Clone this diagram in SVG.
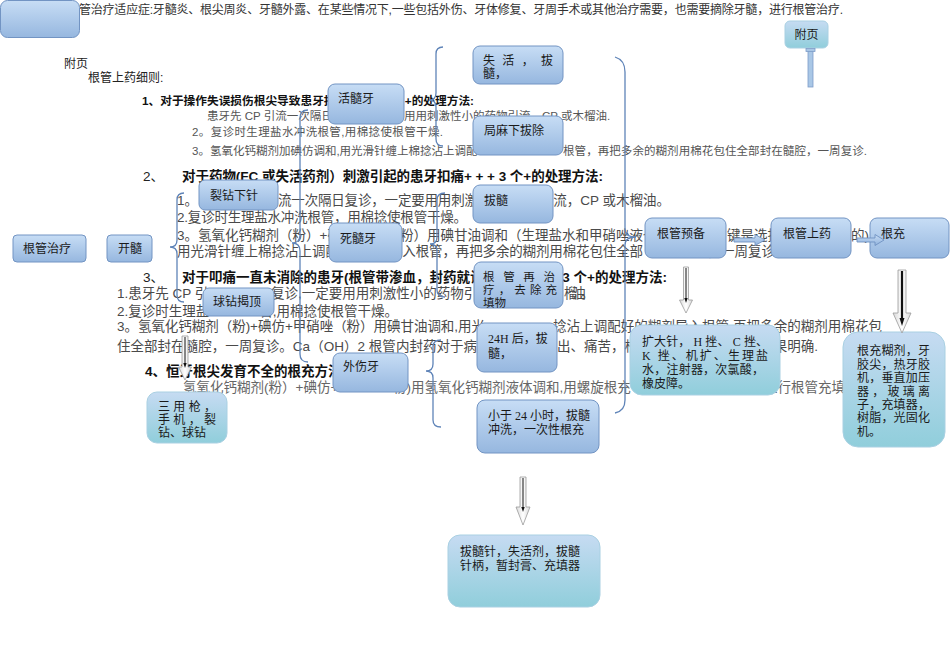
<svg xmlns="http://www.w3.org/2000/svg" width="950" height="672" viewBox="0 0 950 672">
<defs>
<linearGradient id="gB" x1="0" y1="0" x2="0" y2="1"><stop offset="0" stop-color="#c7ddf5"/><stop offset="1" stop-color="#96b7df"/></linearGradient>
<linearGradient id="gC" x1="0" y1="0" x2="0" y2="1"><stop offset="0" stop-color="#c6dbf2"/><stop offset="1" stop-color="#90cedb"/></linearGradient>
<linearGradient id="gA" x1="0" y1="0" x2="0" y2="1"><stop offset="0" stop-color="#c9ddf4"/><stop offset="1" stop-color="#8fb2dd"/></linearGradient>
<linearGradient id="gW" x1="0" y1="0" x2="1" y2="0"><stop offset="0" stop-color="#d8d8d8"/><stop offset="0.5" stop-color="#ffffff"/><stop offset="1" stop-color="#d8d8d8"/></linearGradient>
<style>
.t{font-family:"Liberation Sans","Noto Sans CJK SC",sans-serif;}
.s1{font-size:11.5px;fill:#555;}
.s2{font-size:13.5px;fill:#4a4a4a;}
.h1{font-size:11.7px;font-weight:bold;fill:#111;}
.h2{font-size:13.5px;font-weight:bold;fill:#111;}
.top{font-size:12px;fill:#333;}
.nt{font-family:"Liberation Serif","Noto Sans CJK SC",serif;font-size:12px;fill:#1a1a1a;}
.box{fill:url(#gB);stroke:#7294c3;stroke-width:1;}
.cbox{fill:url(#gC);stroke:#a9d0e2;stroke-width:1;}
.br{fill:none;stroke:#5f84b8;stroke-width:1.3;}
.ra{fill:url(#gA);stroke:#6f92c2;stroke-width:0.9;}
.da{fill:url(#gW);stroke:#9a9a9a;stroke-width:0.8;}
.dl{stroke:#111;stroke-width:1;}
</style>
</defs>
<rect width="950" height="672" fill="#ffffff"/>

<g id="document-text" class="t">
<text class="top" x="79" y="14" textLength="764">管治疗适应症:牙髓炎、根尖周炎、牙髓外露、在某些情况下,一些包括外伤、牙体修复、牙周手术或其他治疗需要，也需要摘除牙髓，进行根管治疗.</text>
<text class="top" x="64" y="68" style="fill:#222">附页</text>
<text class="top" x="88" y="82" style="fill:#222">根管上药细则:</text>
<text class="h1" x="142" y="105">1、对于操作失误损伤根尖导致患牙扣</text>
<text class="h1" x="474" y="105" text-anchor="end">+的处理方法:</text>
<text class="s1" x="207" y="120">患牙先 CP 引流一次隔日</text>
<text class="s1" x="404" y="120">用用刺激性小的药物引流，CP 或木榴油.</text>
<text class="s1" x="192" y="136" textLength="251">2。复诊时生理盐水冲洗根管,用棉捻使根管干燥.</text>
<text class="s1" x="192" y="155">3。氢氧化钙糊剂加碘仿调和,用光滑针缠上棉捻沾上调配</text>
<text class="s1" x="563" y="155" textLength="304">根管，再把多余的糊剂用棉花包住全部封在髓腔，一周复诊.</text>

<text class="s2" x="143" y="180.5" style="fill:#222">2、</text>
<text class="h2" x="182" y="180.5" textLength="421">对于药物(FC 或失活药剂）刺激引起的患牙扣痛+ + + 3 个+的处理方法:</text>
<text class="s2" x="177" y="204.5">1。</text>
<text class="s2" x="278" y="204.5" textLength="200">流一次隔日复诊，一定要用用刺激</text>
<text class="s2" x="670" y="204.5" text-anchor="end">引流，CP 或木榴油。</text>
<text class="s2" x="177" y="221.5" textLength="290">2.复诊时生理盐水冲洗根管，用棉捻使根管干燥。</text>
<text class="s2" x="177" y="239.5">3。氢氧化钙糊剂（粉）+碘</text>
<text class="s2" x="400" y="239.5">粉）用碘甘油调和（生理盐水和甲硝唑液也</text>
<text class="s2" x="727" y="239.5">键是选择</text>
<text class="s2" x="851" y="239.5">的)</text>
<text class="s2" x="177" y="255.5">用光滑针缠上棉捻沾上调配</text>
<text class="s2" x="389" y="255.5" textLength="254">导入根管，再把多余的糊剂用棉花包住全部</text>
<text class="s2" x="775" y="255.5" text-anchor="end">，一周复诊</text>

<text class="s2" x="143" y="281.5" style="fill:#222">3、</text>
<text class="h2" x="182" y="281.5">对于叩痛一直未消除的患牙(根管带渗血，封药就诊</text>
<text class="h2" x="667" y="281.5" text-anchor="end">3 个+的处理方法:</text>
<text class="s2" x="117" y="298">1.患牙先 CP 引</text>
<text class="s2" x="271" y="298">复诊,一定要用用刺激性小的药物引</text>
<text class="s2" x="564" y="298" textLength="30">榴油。</text>
<text class="s2" x="117" y="315.5">2.复诊时生理盐</text>
<text class="s2" x="398" y="315.5" text-anchor="end">管,用棉捻使根管干燥。</text>
<text class="s2" x="117" y="331" textLength="368">3。氢氧化钙糊剂（粉)+碘仿+甲硝唑（粉）用碘甘油调和,用光</text>
<text class="s2" x="553" y="331" textLength="329">捻沾上调配好的糊剂导入根管,再把多余的糊剂用棉花包</text>
<text class="s2" x="117" y="350.5" textLength="360">住全部封在髓腔，一周复诊。Ca（OH）2 根管内封药对于病</text>
<text class="s2" x="557" y="350.5">出、痛苦，根</text>
<text class="s2" x="818" y="350.5" text-anchor="end">效果明确.</text>

<text class="h2" x="145" y="375.5">4、恒牙根尖发育不全的根充方法</text>
<text class="s2" x="183" y="392" style="fill:#666">氢氧化钙糊剂(粉）+碘仿+</text>
<text class="s2" x="393" y="392" style="fill:#666">粉)用氢氧化钙糊剂液体调和,用螺旋根充</text>
<text class="s2" x="845" y="392" text-anchor="end" style="fill:#666">进行根管充填</text>
</g>

<g id="node-blank"><rect class="box" x="0.5" y="0.5" width="79" height="37" rx="7"/></g>
<g id="node-fuye"><rect class="cbox" x="785" y="21" width="43" height="27" rx="5"/><text class="nt" x="806.5" y="39" text-anchor="middle">附页</text></g>
<g id="node-genguanzhiliao"><rect class="box" x="13" y="235" width="73" height="27" rx="4"/><text class="nt" x="23" y="252.5">根管治疗</text></g>
<g id="node-kaisui"><rect class="box" x="107" y="235" width="45" height="27" rx="4"/><text class="nt" x="118" y="252.5">开髓</text></g>
<g id="node-liezuan"><rect class="box" x="199" y="180" width="79" height="30" rx="6"/><text class="nt" x="210" y="199.5">裂钻下针</text></g>
<g id="node-qiuzuan"><rect class="box" x="203" y="288" width="71" height="28" rx="6"/><text class="nt" x="213" y="306">球钻揭顶</text></g>
<g id="node-huosuiya"><rect class="box" x="328" y="84" width="76" height="40" rx="7"/><text class="nt" x="338" y="103">活髓牙</text></g>
<g id="node-sisuiya"><rect class="box" x="329" y="223" width="73" height="39" rx="7"/><text class="nt" x="340" y="242.5">死髓牙</text></g>
<g id="node-waishangya"><rect class="box" x="333" y="353" width="75" height="39" rx="7"/><text class="nt" x="343" y="371">外伤牙</text></g>
<g id="node-shihuo"><rect class="box" x="473" y="46" width="90" height="38" rx="7"/><text class="nt" x="483" y="64.5" textLength="70">失活，拔</text><text class="nt" x="483" y="78">髓，</text></g>
<g id="node-juma"><rect class="box" x="473" y="116" width="90" height="39" rx="7"/><text class="nt" x="484" y="135">局麻下拔除</text></g>
<g id="node-basui"><rect class="box" x="473" y="185" width="80" height="38" rx="7"/><text class="nt" x="484" y="204.5">拔髓</text></g>
<g id="node-zaizhiliao"><rect class="box" x="474" y="262" width="89" height="46" rx="7"/><text class="nt" x="483" y="280.5" textLength="72" style="font-size:11.5px">根管再治</text><text class="nt" x="483" y="293.5" textLength="74" style="font-size:11.5px">疗，去除充</text><text class="nt" x="483" y="306.5" style="font-size:11.5px">填物</text></g>
<g id="node-24h"><rect class="box" x="477" y="323" width="80" height="49" rx="7"/><text class="nt" x="488" y="342.5">24H 后，拔</text><text class="nt" x="488" y="357.5">髓，</text></g>
<g id="node-xiaoyu24"><rect class="box" x="477" y="400" width="122" height="53" rx="8"/><text class="nt" x="488" y="419.5">小于 24 小时，拔髓</text><text class="nt" x="488" y="434">冲洗，一次性根充</text></g>
<g id="node-basuizhen"><rect class="cbox" x="448" y="535" width="152" height="72" rx="12"/><text class="nt" x="460" y="555.5">拔髓针，失活剂，拔髓</text><text class="nt" x="460" y="569.5">针柄，暂封膏、充填器</text></g>
<g id="node-yubei"><rect class="box" x="645" y="218" width="81" height="40" rx="7"/><text class="nt" x="657" y="238">根管预备</text></g>
<g id="node-shangyao"><rect class="box" x="771" y="218" width="80" height="40" rx="7"/><text class="nt" x="783" y="238">根管上药</text></g>
<g id="node-genchong"><rect class="box" x="870" y="218" width="79" height="40" rx="7"/><text class="nt" x="881" y="238">根充</text></g>
<g id="node-kuodazhen"><rect class="cbox" x="630" y="325" width="150" height="70" rx="12"/>
<text class="nt" x="642" y="345.5" textLength="126">扩大针， H 挫、 C 挫、</text>
<text class="nt" x="642" y="359.5" textLength="126">K 挫、机扩、生理盐</text>
<text class="nt" x="642" y="373.5" textLength="122">水，注射器，次氯酸，</text>
<text class="nt" x="642" y="387.5">橡皮障。</text></g>
<g id="node-genchonghuji"><rect class="cbox" x="843" y="332" width="102" height="115" rx="15"/>
<text class="nt" x="857" y="354.5" textLength="73">根充糊剂，牙</text>
<text class="nt" x="857" y="368.5" textLength="73">胶尖，热牙胶</text>
<text class="nt" x="857" y="382" textLength="73">机，垂直加压</text>
<text class="nt" x="857" y="395.5" textLength="73">器，玻璃离</text>
<text class="nt" x="857" y="408.5" textLength="73">子，充填器，</text>
<text class="nt" x="857" y="422" textLength="73">树脂，光固化</text>
<text class="nt" x="857" y="436">机。</text></g>
<g id="node-sanyongqiang"><rect class="cbox" x="147" y="392" width="80" height="51" rx="10"/>
<text class="nt" x="158" y="411" textLength="58">三用枪，</text>
<text class="nt" x="158" y="424" textLength="58">手机，裂</text>
<text class="nt" x="158" y="437">钻、球钻</text></g>

<g id="connectors">
<path class="br" d="M184,193 Q177,193 177,200 L177,240 Q177,247 170,247 Q177,247 177,254 L177,295 Q177,302 184,302"/>
<path class="br" d="M308,110 Q300,110 300,118 L300,235 Q300,243 292,243 Q300,243 300,251 L300,354 Q300,362 308,362"/>
<path class="br" d="M443,47 Q436,47 436,54 L436,93 Q436,100 429,100 Q436,100 436,107 L436,139 Q436,146 443,146"/>
<path class="br" d="M445,193 Q437,193 437,200 L437,237 Q437,244 430,244 Q437,244 437,251 L437,290 Q437,297 445,297"/>
<path class="br" d="M441,340 Q433,340 433,347 L433,364 Q433,371 426,371 Q433,371 433,378 L433,420 Q433,427 441,427"/>
<path class="br" d="M615,57 Q625,60 625,72 L625,229 Q625,237 636,237 Q625,237 625,245 L625,400 Q625,411 615,413"/>
<polygon class="ra" points="734,238 755,238 755,234.5 765,240 755,245.5 755,242 734,242"/>
<polygon class="ra" points="857,238 875,238 875,234.5 884,240 875,245.5 875,242 857,242"/>
<polygon class="da" points="683.5,267 688.5,267 688.5,300 692.5,300 686,313 679.5,300 683.5,300"/>
<line class="dl" x1="686" y1="268" x2="686" y2="300"/><polygon points="684.3,298 687.7,298 686,303" fill="#111"/>
<polygon class="da" points="898,270 906,270 906,313 911,313 902,333 893,313 898,313"/>
<line class="dl" x1="902" y1="271" x2="902" y2="320" style="stroke-width:2.2"/><polygon points="899.5,318 904.5,318 902,326" fill="#111"/>
<polygon class="da" points="520,477 526,477 526,507 530,507 523,525 516,507 520,507"/>
<line class="dl" x1="523" y1="478" x2="523" y2="509"/><polygon points="521.3,507 524.7,507 523,512" fill="#111"/>
<polygon class="da" points="182,336 188,336 188,367 191.5,367 185,380 178.5,367 182,367"/>
<line class="dl" x1="185" y1="337" x2="185" y2="365"/><polygon points="183.3,363 186.7,363 185,368" fill="#111"/>
<rect x="808" y="50" width="5" height="37" fill="#a9c7e6" stroke="#7d9cc8" stroke-width="0.8"/>
<rect x="806" y="48.5" width="9" height="3" fill="#a9c7e6" stroke="#7d9cc8" stroke-width="0.8"/>
</g>
</svg>
